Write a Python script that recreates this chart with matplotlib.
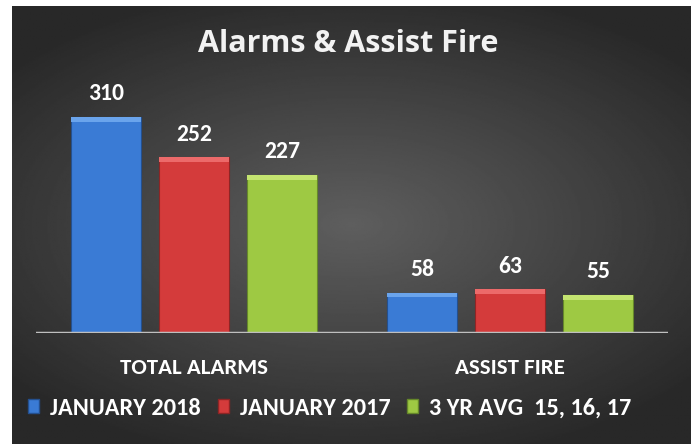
import numpy as np
import matplotlib.pyplot as plt
from matplotlib.patches import Patch

categories = ["TOTAL ALARMS", "ASSIST FIRE"]
series_names = ["JANUARY 2018", "JANUARY 2017", "3 YR AVG  15, 16, 17"]
jan_2018 = [310, 58]
jan_2017 = [252, 63]
avg_3yr = [227, 55]
series_values = [jan_2018, jan_2017, avg_3yr]

colors = ["#3a7bd5", "#d43b3b", "#9ec943"]
light = ["#6aa4ec", "#ec6a6a", "#c4e470"]
dark = ["#24508f", "#8e2525", "#66882a"]

plt.rcParams['font.family'] = ['Carlito', 'Lato', 'DejaVu Sans']

fig = plt.figure(figsize=(6.96, 4.44), dpi=100)
fig.patch.set_facecolor("white")

# radial gradient background
bg = fig.add_axes([12 / 696, 0, 679 / 696, 438 / 444])
yy, xx = np.mgrid[-1:1:300j, -1:1:460j]
r = np.sqrt((xx / 1.0) ** 2 + (yy / 0.85) ** 2)
shade = np.clip(0.37 - 0.16 * r, 0.16, 0.37)
bg.imshow(shade, cmap="gray", vmin=0, vmax=1, aspect="auto", extent=[0, 1, 0, 1])
bg.set_axis_off()

ax = fig.add_axes([36 / 696, 1 - 333 / 444, 632 / 696, 260 / 444])
ax.patch.set_alpha(0)
x = np.arange(len(categories))
w = 0.222
step = 0.278
bevel = 7
for i, vals in enumerate(series_values):
    pos = x + (i - 1) * step
    ax.bar(pos, vals, w, color=colors[i], edgecolor=dark[i], linewidth=0.8, zorder=2)
    ax.bar(pos, [bevel] * len(vals), w, bottom=np.array(vals) - bevel,
           color=light[i], linewidth=0, zorder=3)
    for p, v in zip(pos, vals):
        ax.text(p, v + 18, str(v), ha="center", va="bottom", color="white",
                fontsize=17, fontweight="bold")

ax.set_xlim(-0.5, 1.5)
ax.set_ylim(0, 373)
ax.axhline(0, color="#bfbfbf", linewidth=2.5, zorder=4)
for s in ax.spines.values():
    s.set_visible(False)
ax.set_yticks([])
ax.set_xticks(x)
ax.set_xticklabels(categories, color="white", fontsize=16.5, fontweight="bold")
ax.tick_params(axis="x", length=0, pad=18)

fig.text(0.5, 1 - 44 / 444, "Alarms & Assist Fire", ha="center", va="center",
         color="#f2f2f2", fontsize=22, fontweight="bold", family="Open Sans")

handles = [Patch(facecolor=c, edgecolor=d) for c, d in zip(colors, dark)]
leg = fig.legend(handles, series_names, loc="center left", ncol=3,
                 bbox_to_anchor=(28 / 696, 1 - 408 / 444), frameon=False,
                 borderaxespad=0, borderpad=0,
                 handlelength=0.45, handleheight=0.5, handletextpad=0.45,
                 columnspacing=0.7, prop={"weight": "bold", "size": 17.5})
for t in leg.get_texts():
    t.set_color("white")

fig.savefig("out.png", dpi=100, facecolor=fig.get_facecolor())
